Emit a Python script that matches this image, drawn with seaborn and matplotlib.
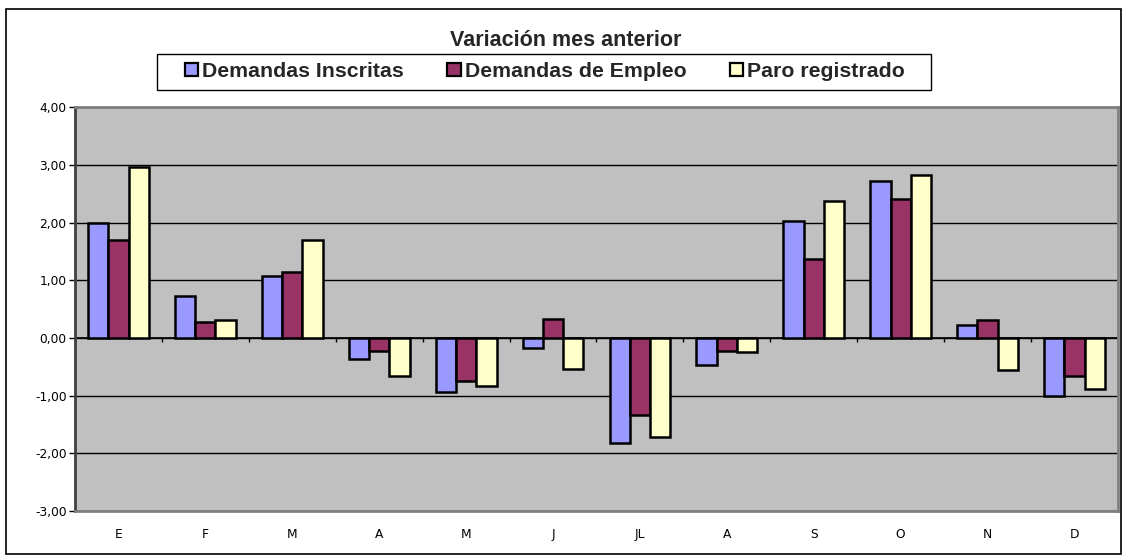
import numpy as np
import pandas as pd
import matplotlib.pyplot as plt
import seaborn as sns
from matplotlib.ticker import FuncFormatter, MultipleLocator
from matplotlib.patches import Rectangle

# data
meses = ["E", "F", "M", "A", "M", "J", "JL", "A", "S", "O", "N", "D"]
demandas_inscritas = [2.00, 0.72, 1.08, -0.37, -0.93, -0.18, -1.82, -0.47, 2.03, 2.72, 0.23, -1.00]
demandas_empleo = [1.69, 0.28, 1.14, -0.22, -0.75, 0.33, -1.33, -0.23, 1.37, 2.41, 0.32, -0.66]
paro_registrado = [2.96, 0.31, 1.69, -0.65, -0.83, -0.53, -1.72, -0.24, 2.38, 2.82, -0.56, -0.89]
series = ["Demandas Inscritas", "Demandas de Empleo", "Paro registrado"]
colores = ["#9999FF", "#993366", "#FFFFCC"]

# long table, month index keeps the duplicated labels (M, A) separate
rows = []
for i, m in enumerate(meses):
    for s, vals in zip(series, [demandas_inscritas, demandas_empleo, paro_registrado]):
        rows.append({"idx": i, "mes": m, "serie": s, "valor": vals[i]})
df = pd.DataFrame(rows)

sns.set_theme(style="white")
plt.rcParams["font.family"] = ["Liberation Sans", "DejaVu Sans"]

fig = plt.figure(figsize=(11.27, 5.58), dpi=100)
ax = fig.add_axes([0.0665, 0.084, 0.9255, 0.724])
ax.set_facecolor("#C0C0C0")

sns.barplot(data=df, x="idx", y="valor", hue="serie", hue_order=series,
            palette=colores, saturation=1, width=0.7, gap=0, edgecolor="black",
            linewidth=1.8, errorbar=None, legend=False, ax=ax, zorder=3)

ax.set_ylim(-3, 4)
ax.set_xlim(-0.5, len(meses) - 0.5)
ax.yaxis.set_major_locator(MultipleLocator(1))
ax.yaxis.set_major_formatter(FuncFormatter(lambda v, p: f"{v:.2f}".replace(".", ",")))
ax.grid(axis="y", color="black", linewidth=1, zorder=0)
ax.set_axisbelow(True)
ax.set_xticks(range(len(meses)))
ax.set_xticklabels(meses)
ax.set_xlabel("")
ax.set_ylabel("")
ax.tick_params(axis="x", length=0, labelsize=8.8, pad=12, colors="black",
               labelfontfamily="DejaVu Sans")
ax.tick_params(axis="y", length=4, width=1, direction="out", left=True, labelsize=8.8,
               colors="black", pad=2, labelfontfamily="DejaVu Sans")

# zero line with small category ticks
ax.axhline(0, color="black", linewidth=1.2, zorder=2)
bordes = np.arange(len(meses) + 1) - 0.5
ax.vlines(bordes, -0.07, 0, color="black", linewidth=1, zorder=2)

for side in ["left", "right", "top", "bottom"]:
    ax.spines[side].set_visible(True)
    ax.spines[side].set_color("#808080")
    ax.spines[side].set_linewidth(2)
ax.spines["left"].set_color("#404040")

fig.text(0.502, 0.928, "Variación mes anterior", ha="center", va="center",
         fontsize=15.5, fontweight="bold")

handles = [Rectangle((0, 0), 1, 1, facecolor=c, edgecolor="black", linewidth=1.6) for c in colores]
leg = fig.legend(handles, series, loc="center", bbox_to_anchor=(0.4835, 0.872), ncol=3,
                 frameon=False, prop={"weight": "bold", "size": 15.3},
                 handlelength=0.62, handleheight=0.62, handletextpad=0.2,
                 columnspacing=2.05, borderpad=0, borderaxespad=0)
# legend frame, wider than the entries as in the original
fig.patches.append(Rectangle((0.1395, 0.839), 0.687, 0.064, transform=fig.transFigure,
                             fill=False, edgecolor="black", linewidth=1))

# outer chart border
fig.patches.append(Rectangle((0.005, 0.008), 0.99, 0.975, transform=fig.transFigure,
                             fill=False, edgecolor="black", linewidth=1.2))

fig.savefig("out.png", dpi=100, facecolor="white")
